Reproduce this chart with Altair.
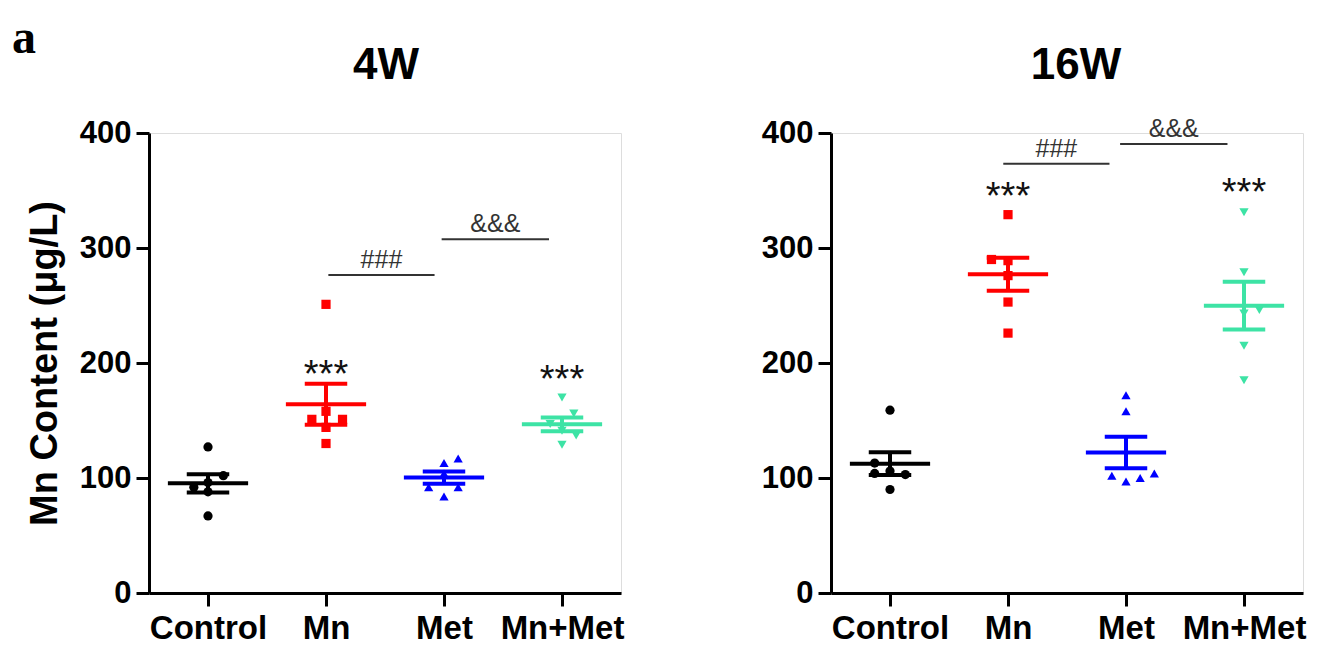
import altair as alt
import pandas as pd
import numpy as np

FONT = "Liberation Sans"
SERIF = "Liberation Serif"

groups = ["Control", "Mn", "Met", "Mn+Met"]
colors = ["#000000", "#FF0000", "#0000FF", "#3DE3A5"]
shapes = ["circle", "square", "triangle-up", "triangle-down"]

# ---- 4W: Mn content (ug/L), one list per group ----
w4_control = [127, 67, 102, 96, 92, 88]
w4_mn = [251, 158, 151, 151, 144, 130]
w4_met = [113, 117, 84, 92, 92, 104]
w4_mnmet = [170, 129, 137, 156, 147, 141]
# horizontal spread of the scatter (category units)
w4_control_dx = [0, 0, 0.13, 0, -0.12, 0]
w4_mn_dx = [0, 0, -0.12, 0.14, 0, 0]
w4_met_dx = [0, 0.12, 0, -0.13, 0.12, 0]
w4_mnmet_dx = [0, 0, 0.12, 0.10, -0.10, 0]

# ---- 16W ----
w16_control = [159, 90, 113, 104, 106, 103]
w16_mn = [329, 226, 253, 290, 289, 276]
w16_met = [172, 158, 102, 97, 100, 104]
w16_mnmet = [331, 279, 243, 246, 215, 185]
w16_control_dx = [0, 0, -0.13, -0.13, 0, 0.13]
w16_mn_dx = [0, 0, 0, -0.14, 0, 0]
w16_met_dx = [0, 0, -0.12, 0, 0.12, 0.24]
w16_mnmet_dx = [0, 0, 0, 0.13, 0, 0]

# ---- significance annotations ----
w4_bracket_from = [2.02, 2.98]
w4_bracket_to = [2.92, 3.89]
w4_bracket_level = [276.5, 307.6]
w4_bracket_label = ["###", "&&&"]
w16_bracket_from = [1.96, 2.95]
w16_bracket_to = [2.86, 3.86]
w16_bracket_level = [373.3, 390.4]
w16_bracket_label = ["###", "&&&"]

star_groups = [2, 4]
w4_star_level = [197, 193]
w16_star_level = [352, 356]

y_ticks = [0, 100, 200, 300, 400]
x_ticks = [1, 2, 3, 4]

label_expr = "[" + ",".join(f"'{g}'" for g in groups) + "][datum.value - 1]"

xscale = alt.Scale(domain=[0.5, 4.5], nice=False, zero=False)
yscale = alt.Scale(domain=[0, 400], nice=False, zero=True)
color_scale = alt.Scale(domain=groups, range=colors)
shape_scale = alt.Scale(domain=groups, range=shapes)

AX_COMMON = dict(
    grid=False, domainColor="black", domainWidth=3, tickColor="black",
    tickWidth=3, tickSize=13, labelFont=FONT, labelFontWeight="bold",
    labelColor="black", labelFlush=False, labelOverlap=False,
)


def x_axis():
    return alt.Axis(values=x_ticks, labelExpr=label_expr, title=None,
                    labelFontSize=33, labelPadding=6, **AX_COMMON)


def y_axis(show_title):
    kw = dict(values=y_ticks, labelFontSize=31, labelPadding=5, **AX_COMMON)
    if show_title:
        kw.update(title="Mn Content (μg/L)", titleFont=FONT, titleFontSize=38,
                  titleFontWeight="bold", titleColor="black", titleAngle=270,
                  titleBaseline="alphabetic", titleAlign="center",
                  titleX=-93, titleY=230)
    else:
        kw.update(title=None)
    return alt.Axis(**kw)


def panel(vals, dxs, b_from, b_to, b_level, b_label, star_level, title,
          title_x, show_ytitle, letter=None):
    rows = []
    summ = []
    for gi, (g, v, d) in enumerate(zip(groups, vals, dxs)):
        for val, dd in zip(v, d):
            rows.append({"group": g, "value": val, "xpos": gi + 1 + dd})
        arr = np.array(v, dtype=float)
        m = arr.mean()
        s = arr.std(ddof=1) / np.sqrt(len(arr))
        xc = gi + 1
        summ.append({"group": g, "xc": xc, "mean": m, "lo": m - s, "hi": m + s,
                     "mx1": xc - 0.34, "mx2": xc + 0.34,
                     "cx1": xc - 0.18, "cx2": xc + 0.18})
    pts = pd.DataFrame(rows)
    sm = pd.DataFrame(summ)

    ya = y_axis(show_ytitle)
    xa = x_axis()

    def X(f):
        return alt.X(f, type="quantitative", scale=xscale, axis=xa)

    def Y(f):
        return alt.Y(f, type="quantitative", scale=yscale, axis=ya)

    col = alt.Color("group:N", scale=color_scale, legend=None)

    points = alt.Chart(pts).mark_point(filled=True, size=85, opacity=1).encode(
        x=X("xpos"), y=Y("value"), color=col,
        shape=alt.Shape("group:N", scale=shape_scale, legend=None))

    mean_line = alt.Chart(sm).mark_rule(strokeWidth=4).encode(
        x=X("mx1"), x2="mx2", y=Y("mean"), color=col)
    cap_hi = alt.Chart(sm).mark_rule(strokeWidth=4).encode(
        x=X("cx1"), x2="cx2", y=Y("hi"), color=col)
    cap_lo = alt.Chart(sm).mark_rule(strokeWidth=4).encode(
        x=X("cx1"), x2="cx2", y=Y("lo"), color=col)
    vert = alt.Chart(sm).mark_rule(strokeWidth=4).encode(
        x=X("xc"), y=Y("lo"), y2="hi", color=col)

    br = pd.DataFrame({"x1": b_from, "x2": b_to, "y": b_level, "label": b_label})
    br["xm"] = (br["x1"] + br["x2"]) / 2
    brule = alt.Chart(br).mark_rule(strokeWidth=2, color="#333333").encode(
        x=X("x1"), x2="x2", y=Y("y"))
    btext = alt.Chart(br).mark_text(font=FONT, fontSize=25, color="#333333",
                                    baseline="alphabetic", dy=-7).encode(
        x=X("xm"), y=Y("y"), text="label:N")

    st = pd.DataFrame({"x": star_groups, "y": star_level, "t": ["***"] * len(star_groups)})
    stars = alt.Chart(st).mark_text(font=FONT, fontSize=38, color="#111111",
                                    baseline="alphabetic", dy=21).encode(
        x=X("x"), y=Y("y"), text="t:N")

    ttl = alt.Chart(pd.DataFrame({"t": [title]})).mark_text(
        font=FONT, fontSize=44, fontWeight="bold", color="black",
        align="center", baseline="alphabetic").encode(
        x=alt.value(title_x), y=alt.value(-54), text="t:N")

    layers = [points, mean_line, cap_hi, cap_lo, vert, brule, btext, stars, ttl]
    if letter is not None:
        lt = alt.Chart(pd.DataFrame({"t": [letter]})).mark_text(
            font=SERIF, fontSize=48, fontWeight="bold", color="black",
            align="left", baseline="alphabetic").encode(
            x=alt.value(-137), y=alt.value(-80), text="t:N")
        layers.append(lt)
    return alt.layer(*layers).properties(width=472, height=460)


left = panel([w4_control, w4_mn, w4_met, w4_mnmet],
             [w4_control_dx, w4_mn_dx, w4_met_dx, w4_mnmet_dx],
             w4_bracket_from, w4_bracket_to, w4_bracket_level, w4_bracket_label,
             w4_star_level, "4W", 237, True, letter="a")
right = panel([w16_control, w16_mn, w16_met, w16_mnmet],
              [w16_control_dx, w16_mn_dx, w16_met_dx, w16_mnmet_dx],
              w16_bracket_from, w16_bracket_to, w16_bracket_level, w16_bracket_label,
              w16_star_level, "16W", 245, False)

chart = alt.hconcat(left, right, spacing=210, bounds="flush").properties(
    padding={"left": 3, "top": 6, "right": 5, "bottom": 5}
).configure_view(stroke=None).configure(background="white")

chart.save("out.html", embed_options={"renderer": "svg", "actions": False})
